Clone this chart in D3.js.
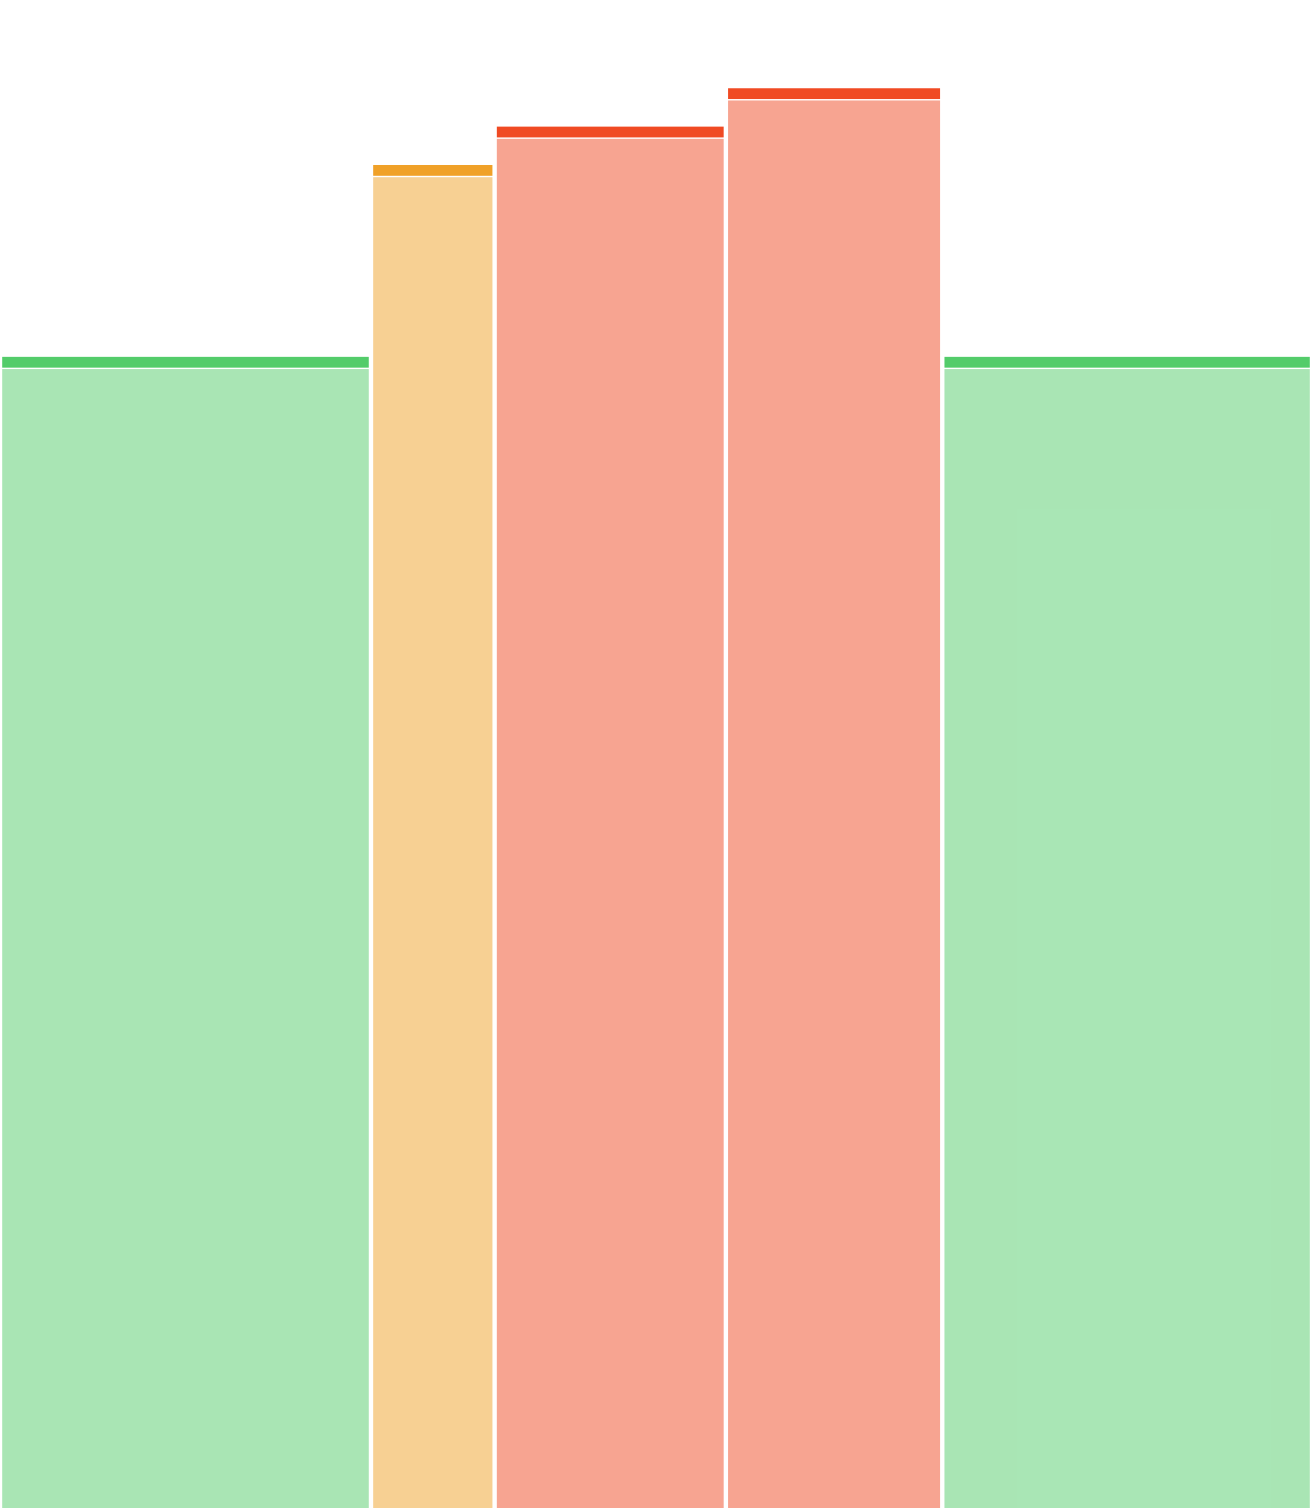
<!DOCTYPE html>
<html>
<head>
<meta charset="utf-8">
<script src="https://cdn.jsdelivr.net/npm/d3@7"></script>
<style>
  html, body { margin: 0; padding: 0; background: #ffffff; }
  svg { display: block; }
</style>
</head>
<body>
<div id="chart"></div>
<script>
// ---- data ----
const binStarts = [0, 30, 40, 58.7, 76.2];
const binEnds   = [30, 40, 58.7, 76.2, 106.1];
const values    = [30, 35, 36, 37, 30];
const binColors = ["#53cc6a", "#f0a128", "#f04a23", "#f04a23", "#53cc6a"];
const xDomain = [0, 106.1];
const yDomain = [0, 39.3];

// ---- layout ----
const W = 1312, H = 1508;
const inset = 2.2;     // horizontal white gap half-width
const capH = 10.8;     // thickness of the darker top cap
const capGap = 1.4;    // white gap between cap and fill

const svg = d3.select("#chart").append("svg")
  .attr("width", W).attr("height", H);

const x = d3.scaleLinear().domain(xDomain).range([0, W]);
const y = d3.scaleLinear().domain(yDomain).range([H, 0]);

const data = values.map((v, i) => ({
  x0: binStarts[i], x1: binEnds[i], v, color: binColors[i]
}));

const g = svg.append("g");

// lighter body
g.selectAll("rect.body").data(data).join("rect")
  .attr("class", "body")
  .attr("x", d => x(d.x0) + inset)
  .attr("width", d => x(d.x1) - x(d.x0) - 2 * inset)
  .attr("y", d => y(d.v) + capH + capGap)
  .attr("height", d => y(0) - (y(d.v) + capH + capGap))
  .attr("fill", d => d.color)
  .attr("fill-opacity", 0.5);

// darker cap
g.selectAll("rect.cap").data(data).join("rect")
  .attr("class", "cap")
  .attr("x", d => x(d.x0) + inset)
  .attr("width", d => x(d.x1) - x(d.x0) - 2 * inset)
  .attr("y", d => y(d.v))
  .attr("height", capH)
  .attr("fill", d => d.color);
</script>
</body>
</html>
